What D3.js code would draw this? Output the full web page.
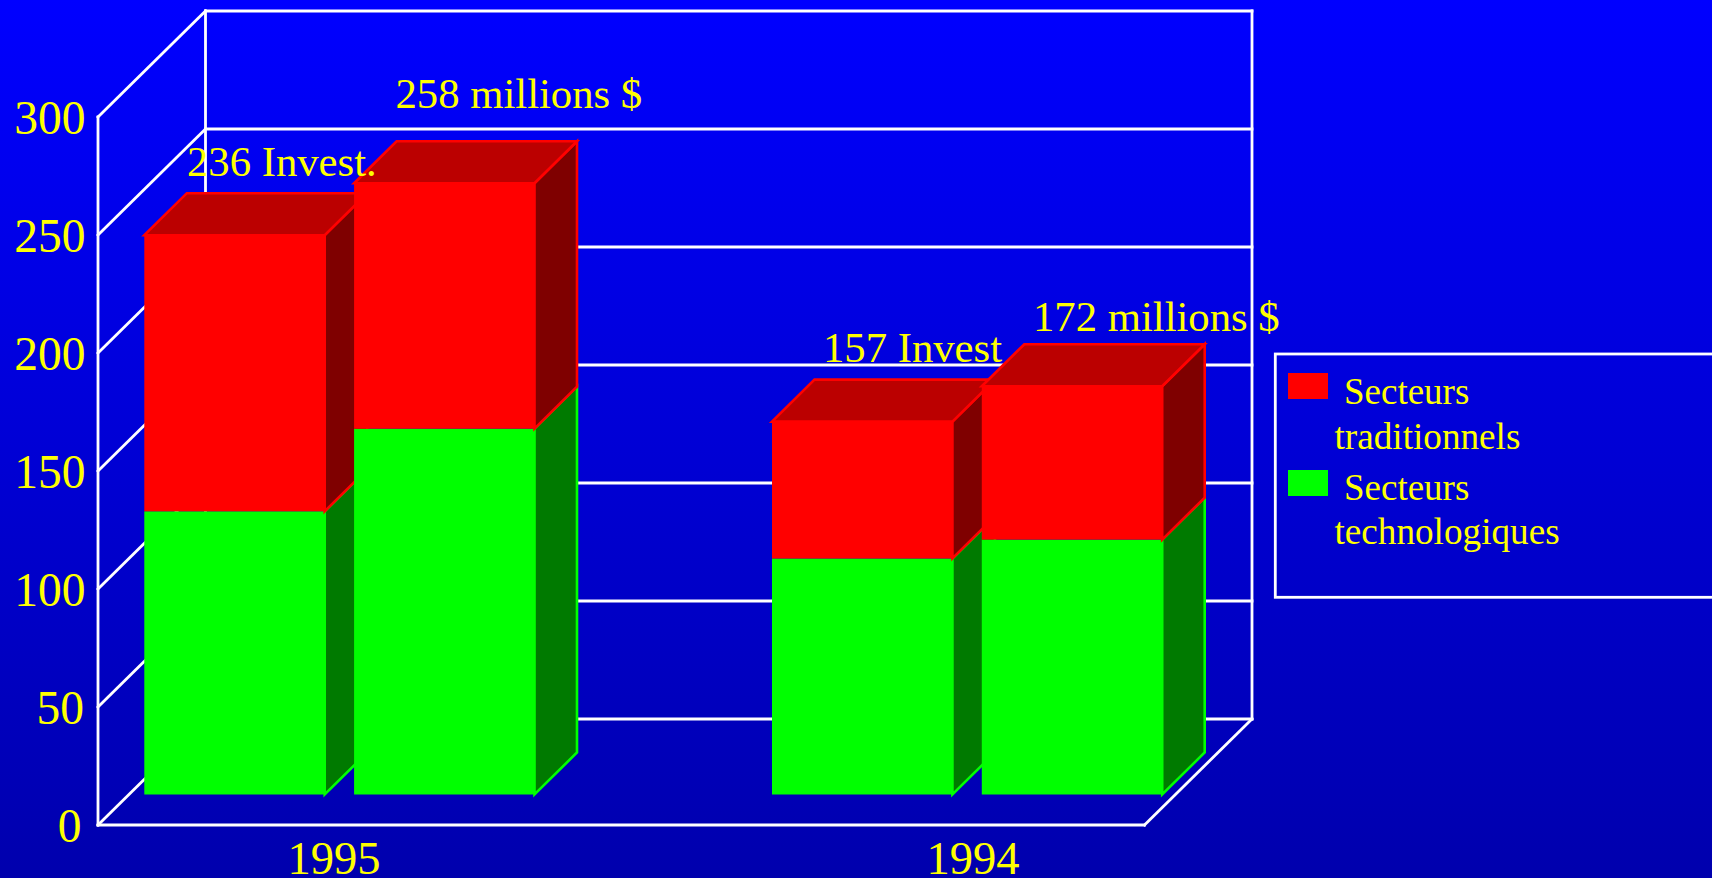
<!DOCTYPE html>
<html>
<head>
<meta charset="utf-8">
<script src="https://cdn.jsdelivr.net/npm/d3@7"></script>
<style>
html,body{margin:0;padding:0;background:#0000b0;overflow:hidden}
svg{display:block}
text{font-family:"Liberation Serif",serif;fill:#ffff00}
</style>
</head>
<body>
<div id="chart"></div>
<script>
const categories = ["1995", "1994"];
const seriesNames = ["Secteurs technologiques", "Secteurs traditionnels"];
const technologiques = [[120, 155], [100, 108]];
const traditionnels = [[117, 104], [58, 65]];
const yTicks = [0, 50, 100, 150, 200, 250, 300];
const barLabels = [["236 Invest.", "258 millions $"], ["157 Invest", "172 millions $"]];
const legendLines = [["Secteurs", "traditionnels"], ["Secteurs", "technologiques"]];

const W = 1712, H = 878;
const svg = d3.select("#chart").append("svg").attr("width", W).attr("height", H);
const defs = svg.append("defs");
const grad = defs.append("linearGradient").attr("id", "bg").attr("x1", 0).attr("x2", 0).attr("y1", 0).attr("y2", 1);
grad.append("stop").attr("offset", "0%").attr("stop-color", "#0000ff");
grad.append("stop").attr("offset", "100%").attr("stop-color", "#0000ad");
svg.append("rect").attr("width", W).attr("height", H).attr("fill", "url(#bg)");

// layout
const frontL = 98, frontR = 1144.5, depthX = 107.5, depthY = 106;
const y = d3.scaleLinear().domain([0, 300]).range([825, 117]);
const xCat = d3.scalePoint().domain(categories).range([144.3, 772]);
const xSub = d3.scaleBand().domain([0, 1]).range([0, 390.2]).paddingInner(0.14);
const barLift = 30.5, barDX = 42.5, barDY = 42;

const line = (x1, y1, x2, y2) => svg.append("line")
  .attr("x1", x1).attr("y1", y1).attr("x2", x2).attr("y2", y2)
  .attr("stroke", "#fff").attr("stroke-width", 2.8).attr("stroke-linecap", "square");

// walls
yTicks.forEach(t => {
  line(frontL, y(t), frontL + depthX, y(t) - depthY);
  line(frontL + depthX, y(t) - depthY, frontR + depthX, y(t) - depthY);
});
line(frontL, y(0), frontL, y(300));
line(frontL + depthX, y(0) - depthY, frontL + depthX, y(300) - depthY);
line(frontR + depthX, y(0) - depthY, frontR + depthX, y(300) - depthY);
line(frontL, y(0), frontR, y(0));
line(frontR, y(0), frontR + depthX, y(0) - depthY);

// 3D bar segment
function segment(x, w, yTop, yBot, bright, side, top, withTop) {
  const g = svg.append("g");
  const pts = a => a.map(p => p.join(",")).join(" ");
  g.append("polygon")
    .attr("points", pts([[x + w, yTop], [x + w + barDX, yTop - barDY], [x + w + barDX, yBot - barDY], [x + w, yBot]]))
    .attr("fill", side).attr("stroke", bright).attr("stroke-width", 2.6);
  if (withTop) {
    g.append("polygon")
      .attr("points", pts([[x, yTop], [x + barDX, yTop - barDY], [x + w + barDX, yTop - barDY], [x + w, yTop]]))
      .attr("fill", top).attr("stroke", bright).attr("stroke-width", 2.6);
  }
  g.append("rect").attr("x", x).attr("y", yTop).attr("width", w).attr("height", yBot - yTop).attr("fill", bright);
}

categories.forEach((c, ci) => {
  [0, 1].forEach(si => {
    const x = xCat(c) + xSub(si), w = xSub.bandwidth();
    const a = technologiques[ci][si], b = traditionnels[ci][si];
    const y0 = y(0) - barLift, y1 = y(a) - barLift, y2 = y(a + b) - barLift;
    segment(x, w, y1, y0, "#00ff00", "#007a00", "#00bb00", false);
    segment(x, w, y2, y1, "#ff0000", "#7f0000", "#bb0000", true);
  });
});

// tick labels
const tickRight = {0: 81.5, 50: 84};
svg.selectAll("text.tick").data(yTicks).join("text").attr("class", "tick")
  .attr("x", d => tickRight[d] || 85.5).attr("y", d => y(d) + 17)
  .attr("text-anchor", "end").attr("font-size", 47.5).text(d => d);

// category labels
const catCenter = {"1995": 334, "1994": 973};
svg.selectAll("text.cat").data(categories).join("text").attr("class", "cat")
  .attr("x", d => catCenter[d]).attr("y", 873.5)
  .attr("text-anchor", "middle").attr("font-size", 46.5).text(d => d);

// annotations
const labelPos = [[[187, 175.7], [395.5, 108]], [[823, 362], [1033, 331]]];
barLabels.forEach((row, i) => row.forEach((t, j) => {
  svg.append("text").attr("x", labelPos[i][j][0]).attr("y", labelPos[i][j][1])
    .attr("font-size", 42.7).text(t);
}));

// legend
svg.append("rect").attr("x", 1275.3).attr("y", 354).attr("width", 500).attr("height", 243.3)
  .attr("fill", "none").attr("stroke", "#fff").attr("stroke-width", 2.8);
const swatchColors = ["#ff0000", "#00ff00"];
const swatchY = [373, 470], line1Y = [404, 500], line2Y = [449, 544];
legendLines.forEach((l, i) => {
  svg.append("rect").attr("x", 1288).attr("y", swatchY[i]).attr("width", 40).attr("height", 26).attr("fill", swatchColors[i]);
  svg.append("text").attr("x", 1344).attr("y", line1Y[i]).attr("font-size", 37).text(l[0]);
  svg.append("text").attr("x", 1334.5).attr("y", line2Y[i]).attr("font-size", 37.2).text(l[1]);
});
</script>
</body>
</html>
